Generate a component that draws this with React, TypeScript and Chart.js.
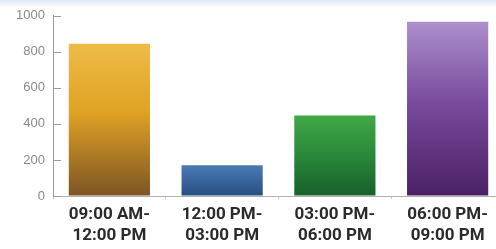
import React, { useEffect, useRef } from "react";
import { Chart, registerables } from "chart.js";

Chart.register(...registerables);

const categories: string[][] = [
  ["09:00 AM-", "12:00 PM"],
  ["12:00 PM-", "03:00 PM"],
  ["03:00 PM-", "06:00 PM"],
  ["06:00 PM-", "09:00 PM"],
];
const values: number[] = [845, 171, 447, 967];
const yTicks: number[] = [0, 200, 400, 600, 800, 1000];
const gradientStops: string[][] = [
  ["#eebb48", "#e0a224", "#7c5424"],
  ["#4a7ab4", "#3a679e", "#274e80"],
  ["#40a846", "#2b8c3a", "#17602c"],
  ["#ad90cc", "#7a4c9e", "#4a2064"],
];

const innerTicks = {
  id: "innerTicks",
  afterDraw(chart: any) {
    const { ctx, scales } = chart;
    const y = scales.y;
    const x0 = chart.chartArea.left;
    ctx.save();
    ctx.strokeStyle = "#9a9a9a";
    ctx.lineWidth = 1;
    yTicks.forEach((v) => {
      const py = Math.round(y.getPixelForValue(v)) + 0.5;
      ctx.beginPath();
      ctx.moveTo(x0, py);
      ctx.lineTo(x0 + 8, py);
      ctx.stroke();
    });
    ctx.restore();
  },
};

export default function App() {
  const ref = useRef<HTMLCanvasElement>(null);
  useEffect(() => {
    document.body.style.margin = "0";
    document.body.style.overflow = "hidden";
    const canvas = ref.current!;
    const chart = new Chart(canvas, {
      type: "bar",
      data: {
        labels: categories,
        datasets: [
          {
            data: values,
            backgroundColor: (c: any) => {
              const ch = c.chart;
              const i = c.dataIndex;
              const stops = gradientStops[i] || gradientStops[0];
              const ys = ch.scales && ch.scales.y;
              if (!ys || i === undefined || !ch.chartArea) return stops[1];
              const top = ys.getPixelForValue(values[i]);
              const bot = ys.getPixelForValue(0);
              if (!isFinite(top) || !isFinite(bot) || top === bot) return stops[1];
              const g = ch.ctx.createLinearGradient(0, top, 0, bot);
              g.addColorStop(0, stops[0]);
              g.addColorStop(0.45, stops[1]);
              g.addColorStop(1, stops[2]);
              return g;
            },
            borderWidth: 0,
            barPercentage: 0.72,
            categoryPercentage: 1,
          },
        ],
      },
      options: {
        responsive: false,
        animation: false,
        layout: { padding: { top: 15, right: 0, left: 0, bottom: 0 } },
        plugins: { legend: { display: false }, tooltip: { enabled: false } },
        scales: {
          x: {
            grid: {
              drawOnChartArea: false,
              tickLength: 3,
              color: "#c8c8c8",
            },
            border: { color: "#b0b0b0" },
            ticks: {
              color: "#2a2a2a",
              padding: 5,
              maxRotation: 0,
              autoSkip: false,
              font: { family: "'Liberation Sans Narrow', 'Roboto', sans-serif", size: 17, weight: "bold", lineHeight: 1.25 },
            },
            afterFit: (s: any) => {
              s.height = 53;
            },
          },
          y: {
            min: 0,
            max: 1000,
            afterBuildTicks: (s: any) => {
              s.ticks = yTicks.map((v) => ({ value: v }));
            },
            grid: { drawOnChartArea: false, tickLength: 0 },
            border: { color: "#9a9a9a" },
            ticks: {
              color: "#8a8a8a",
              padding: 8,
              callback: (v: any) => String(v),
              font: { family: "'Liberation Sans', Arial, sans-serif", size: 13 },
            },
            afterFit: (s: any) => {
              s.width = 53;
            },
          },
        },
      },
      plugins: [innerTicks],
    });
    return () => chart.destroy();
  }, []);
  return (
    <div
      style={{
        width: 496,
        height: 249,
        overflow: "hidden",
        background: "linear-gradient(#dde9f5 0px, #eef4fa 4px, #ffffff 7px)",
      }}
    >
      <canvas ref={ref} width={504} height={249} style={{ display: "block" }} />
    </div>
  );
}
